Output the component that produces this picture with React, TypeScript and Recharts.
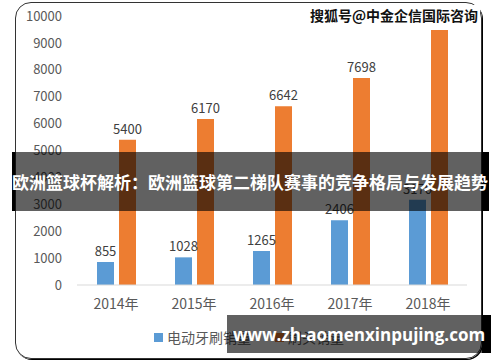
import React from 'react';
import { BarChart, Bar, XAxis, YAxis, LabelList } from 'recharts';

const years = ['2014年', '2015年', '2016年', '2017年', '2018年'];
const brushSales = [855, 1028, 1265, 2406, 3170];
const headSales = [5400, 6170, 6642, 7698, 9480];
const yTicks = [0, 1000, 2000, 3000, 4000, 5000, 6000, 7000, 8000, 9000, 10000];

const BLUE = '#5B9BD5';
const ORANGE = '#ED7D31';
const FONT = '"Noto Sans CJK SC", "Noto Sans", sans-serif';

const series = [
  { key: 'brush', name: '电动牙刷销量', color: BLUE },
  { key: 'head', name: '刷头销量', color: ORANGE },
];

const data = years.map((year, i) => ({ year, brush: brushSales[i], head: headSales[i] }));

export default function App() {
  return (
    <div style={{ position: 'fixed', left: 0, top: 0, width: 500, height: 362, background: '#fff', overflow: 'hidden' }}>
      <BarChart
        width={500}
        height={362}
        data={data}
        margin={{ top: 16, right: 33, bottom: 47, left: 0 }}
        barSize={17}
        barGap={5}
      >
        <XAxis
          dataKey="year"
          height={30}
          axisLine={{ stroke: '#d9d9d9' }}
          tickLine={false}
          tickSize={0}
          tickMargin={14}
          tick={{ fill: '#595959', fontSize: 14, fontFamily: FONT }}
        />
        <YAxis
          width={77}
          domain={[0, 10000]}
          ticks={yTicks}
          axisLine={false}
          tickLine={false}
          tickSize={0}
          tickMargin={15}
          tick={{ fill: '#595959', fontSize: 13, fontFamily: FONT }}
        />
        {series.map((s) => (
          <Bar key={s.key} dataKey={s.key} name={s.name} fill={s.color} isAnimationActive={false}>
            <LabelList dataKey={s.key} position="top" offset={6} fill="#404040" fontSize={13} fontFamily={FONT} />
          </Bar>
        ))}
      </BarChart>

      {/* legend */}
      <div
        style={{
          position: 'absolute', left: 154, top: 327, height: 20, display: 'flex', alignItems: 'center',
          fontFamily: FONT, fontSize: 14, color: '#595959', whiteSpace: 'nowrap',
        }}
      >
        {series.map((s) => (
          <div key={s.key} style={{ display: 'flex', alignItems: 'center', marginRight: 24 }}>
            <span style={{ width: 9, height: 9, background: s.color, marginRight: 4 }} />
            <span>{s.name}</span>
          </div>
        ))}
      </div>

      {/* rounded frame */}
      <div
        style={{
          position: 'absolute', left: 15, top: 2, width: 465, height: 355,
          border: '1.5px solid #333', borderRadius: 16, boxShadow: '1px 1px 0 #000',
          pointerEvents: 'none',
        }}
      />

      {/* watermark */}
      <div
        style={{
          position: 'absolute', left: 308, top: 5, padding: '0 2px', background: '#fff',
          fontFamily: FONT, fontSize: 14, fontWeight: 700, color: '#111', lineHeight: '20px',
        }}
      >
        搜狐号@中金企信国际咨询
      </div>

      {/* title banner */}
      <div style={{ position: 'absolute', left: 12, top: 152, width: 477, height: 59, background: 'rgba(0,0,0,0.62)' }} />
      <div style={{ position: 'absolute', left: 12, top: 152, width: 3, height: 59, background: '#000' }} />
      <div style={{ position: 'absolute', left: 482, top: 152, width: 7, height: 59, background: '#000' }} />
      <div
        style={{
          position: 'absolute', left: 0, top: 152, width: 500, height: 59, display: 'flex',
          alignItems: 'center', justifyContent: 'center', color: '#fff', fontFamily: FONT,
          fontSize: 17, fontWeight: 700, whiteSpace: 'nowrap',
        }}
      >
        欧洲篮球杯解析：欧洲篮球第二梯队赛事的竞争格局与发展趋势
      </div>

      {/* url banner */}
      <div style={{ position: 'absolute', left: 227, top: 315, width: 255, height: 38, background: 'rgba(0,0,0,0.62)' }} />
      <div style={{ position: 'absolute', left: 482, top: 315, width: 9, height: 38, background: '#000' }} />
      <div
        style={{
          position: 'absolute', left: 227, top: 315, width: 264, height: 38, display: 'flex',
          alignItems: 'center', justifyContent: 'center', color: '#fff',
          fontFamily: '"Open Sans", sans-serif', fontSize: 17, fontWeight: 700, whiteSpace: 'nowrap',
        }}
      >
        www.zh-aomenxinpujing.com
      </div>
    </div>
  );
}
